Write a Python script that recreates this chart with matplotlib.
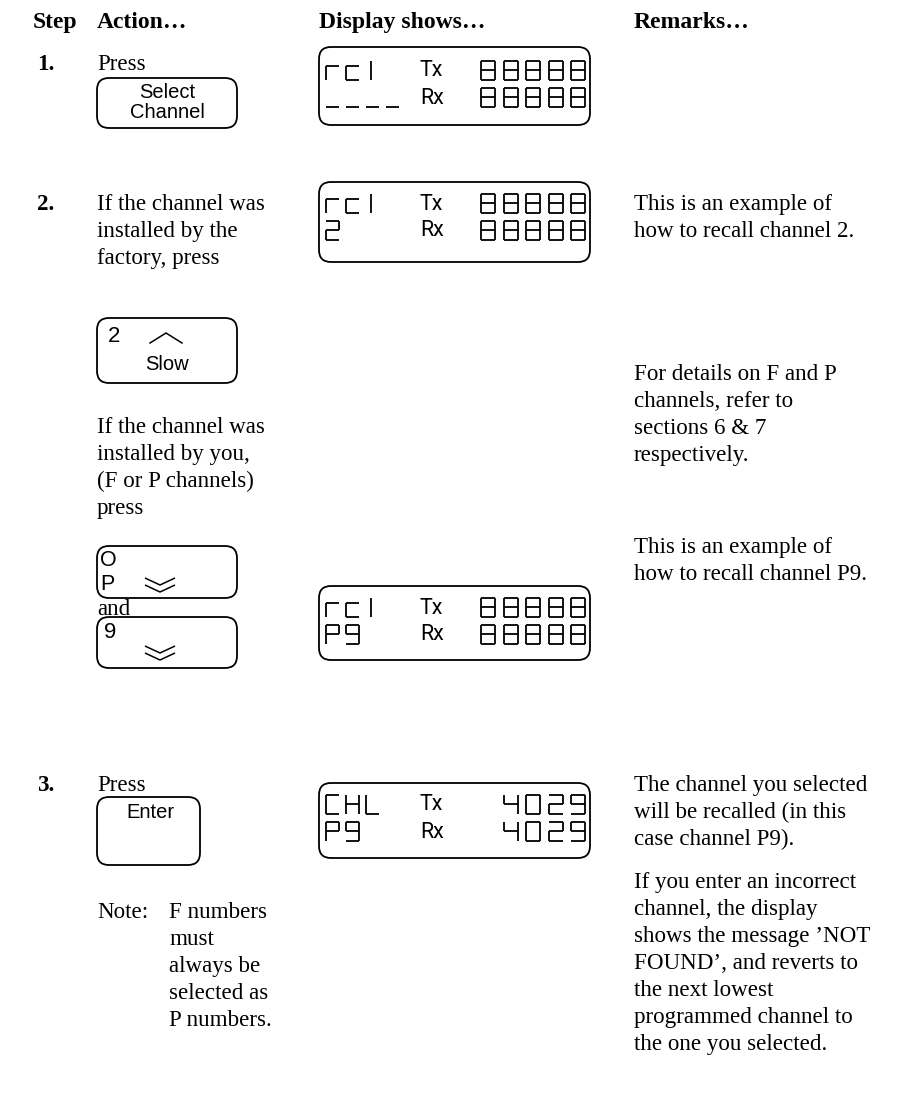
import matplotlib
matplotlib.use("Agg")
import matplotlib.pyplot as plt
from matplotlib.patches import FancyBboxPatch
from matplotlib.collections import LineCollection

# ---------------- content ----------------
HEADERS = ["Step", "Action\u2026", "Display shows\u2026", "Remarks\u2026"]
STEP_LABELS = ["1.", "2.", "3."]

ACTION_STEP1 = ["Press"]
ACTION_STEP2A = ["If the channel was", "installed by the", "factory, press"]
ACTION_STEP2B = ["If the channel was", "installed by you,", "(F or P channels)", "press"]
ACTION_AND = ["and"]
ACTION_STEP3 = ["Press"]
NOTE_HEAD = "Note:"
NOTE_LINES = ["F numbers", "must", "always be", "selected as", "P numbers."]

REMARK_2A = ["This is an example of", "how to recall channel 2."]
REMARK_2B = ["For details on F and P", "channels, refer to", "sections 6 & 7", "respectively."]
REMARK_2C = ["This is an example of", "how to recall channel P9."]
REMARK_3A = ["The channel you selected", "will be recalled (in this", "case channel P9)."]
REMARK_3B = ["If you enter an incorrect", "channel, the display",
             "shows the message \u2019NOT", "FOUND\u2019, and reverts to",
             "the next lowest", "programmed channel to", "the one you selected."]

# LCD screens: (left top, right top, left bottom, right bottom)
LCD_1 = ("rcl", "88888", "____", "88888")
LCD_2 = ("rcl", "88888", "2", "88888")
LCD_3 = ("rcl", "88888", "P9", "88888")
LCD_4 = ("CHL", "4029", "P9", "4029")
LCD_MID = ("Tx", "Rx")

BUTTON_1 = ["Select", "Channel"]
BUTTON_2 = ("2", "Slow")
BUTTON_3 = ("O", "P")
BUTTON_4 = "9"
BUTTON_5 = "Enter"

# ---------------- drawing ----------------
SERIF = ["Liberation Serif", "DejaVu Serif"]
SANS = ["Liberation Sans", "DejaVu Sans"]
LCDFONT = ["Roboto", "Liberation Sans", "DejaVu Sans"]
FS = 16.6
BFS = 14.5
LH = 27

fig = plt.figure(figsize=(8.99, 11.03), dpi=100)
ax = fig.add_axes([0, 0, 1, 1])
ax.set_xlim(0, 899)
ax.set_ylim(1103, 0)
ax.axis("off")

def lines(x, y0, items, **kw):
    for i, s in enumerate(items):
        ax.text(x, y0 + i * LH, s, family=SERIF, fontsize=FS, ha="left",
                va="center_baseline", color="black", **kw)

def rbox(x0, y0, x1, y1, r=12):
    p = FancyBboxPatch((x0, y0), x1 - x0, y1 - y0,
                       boxstyle=f"round,pad=0,rounding_size={r}",
                       fc="none", ec="black", lw=1.3)
    ax.add_patch(p)

SEGS = {
    "8": "abcdefg", "0": "abcdef", "2": "abged", "4": "fgbc", "9": "abcdfg",
    "P": "abfge", "C": "afed", "H": "fbgec", "L": "fed",
    "r": "ge", "c": "ged", "l": "bc", "_": "d",
}
LOWER = {"r", "c"}

def seg_lines(ch, x, y, w, h):
    m = y + h / 2
    if ch in LOWER:
        m = y + h * 0.3
    pts = {
        "a": [(x, y), (x + w, y)],
        "b": [(x + w, y), (x + w, m)],
        "c": [(x + w, m), (x + w, y + h)],
        "d": [(x, y + h), (x + w, y + h)],
        "e": [(x, m), (x, y + h)],
        "f": [(x, y), (x, m)],
        "g": [(x, m), (x + w, m)],
    }
    if ch == "l":
        return [[(x + w * 0.4, y), (x + w * 0.4, y + h)]]
    return [pts[s] for s in SEGS.get(ch, "")]

def seg_text(s, x, yc, w=12, h=18, pitch=19, align="left"):
    segs = []
    if align == "right":
        x = x - (len(s) - 1) * pitch - w
    for i, ch in enumerate(s):
        segs += seg_lines(ch, x + i * pitch, yc - h / 2, w, h)
    ax.add_collection(LineCollection(segs, colors="black", linewidths=1.3,
                                     capstyle="butt"))

def lcd(y0, y1, content, r1, r2):
    rbox(319, y0, 590, y1, r=12)
    lt, rt, lb, rb = content
    for yc, left, right, mid in ((r1, lt, rt, LCD_MID[0]), (r2, lb, rb, LCD_MID[1])):
        seg_text(left, 326, yc, w=13, h=19, pitch=20)
        ax.text(420, yc + 1, mid, family=LCDFONT, fontsize=15.5,
                ha="left", va="center", color="black")
        seg_text(right, 585, yc, w=14, h=19, pitch=22.5, align="right")

def chevrons(xc, ytop):
    segs = [[(xc - 15, ytop), (xc, ytop + 7), (xc + 15, ytop)],
            [(xc - 15, ytop + 7), (xc, ytop + 14), (xc + 15, ytop + 7)]]
    ax.add_collection(LineCollection(segs, colors="black", linewidths=1.1))

def btext(x, y, s, ha="center", fs=BFS):
    ax.text(x, y, s, family=SANS, fontsize=fs, ha=ha, va="center", color="black")

# headers
for x, s in zip([33, 97, 319, 634], HEADERS):
    ax.text(x, 20, s, family=SERIF, fontsize=FS + 0.4, fontweight="bold",
            ha="left", va="center_baseline")

# step labels
for y, s in zip([62, 202, 783], STEP_LABELS):
    ax.text(37, y, s, family=SERIF, fontsize=FS, fontweight="bold",
            ha="left", va="center_baseline")

# Step 1
lines(97, 62, ACTION_STEP1)
rbox(97, 78, 237, 128)
btext(167, 93, BUTTON_1[0])
btext(167, 112, BUTTON_1[1])
lcd(47, 125, LCD_1, 70, 97)

# Step 2
lines(97, 202, ACTION_STEP2A)
lcd(182, 262, LCD_2, 203, 230)
lines(634, 202, REMARK_2A)
rbox(97, 318, 237, 383)
btext(108, 337, BUTTON_2[0], ha="left", fs=16)
ax.plot([150, 166, 182], [343, 333, 343], color="black", lw=1.1)
btext(167, 364, BUTTON_2[1])
lines(634, 372, REMARK_2B)
lines(97, 425, ACTION_STEP2B)
lines(634, 545, REMARK_2C)
rbox(97, 546, 237, 598)
btext(100, 561, BUTTON_3[0], ha="left", fs=15.5)
btext(100, 585, BUTTON_3[1], ha="left", fs=15.5)
chevrons(160, 578)
lcd(586, 660, LCD_3, 607, 634)
lines(97, 607, ACTION_AND)
rbox(97, 617, 237, 668)
btext(104, 632, BUTTON_4, ha="left", fs=16)
chevrons(160, 646)

# Step 3
lines(97, 783, ACTION_STEP3)
rbox(97, 797, 200, 865)
btext(150, 813, BUTTON_5)
lcd(783, 858, LCD_4, 804, 831)
lines(634, 783, REMARK_3A)
lines(634, 880, REMARK_3B)
ax.text(97, 910, NOTE_HEAD, family=SERIF, fontsize=FS, ha="left",
        va="center_baseline")
lines(169, 910, NOTE_LINES)

fig.savefig("out.png", dpi=100, facecolor="white")
